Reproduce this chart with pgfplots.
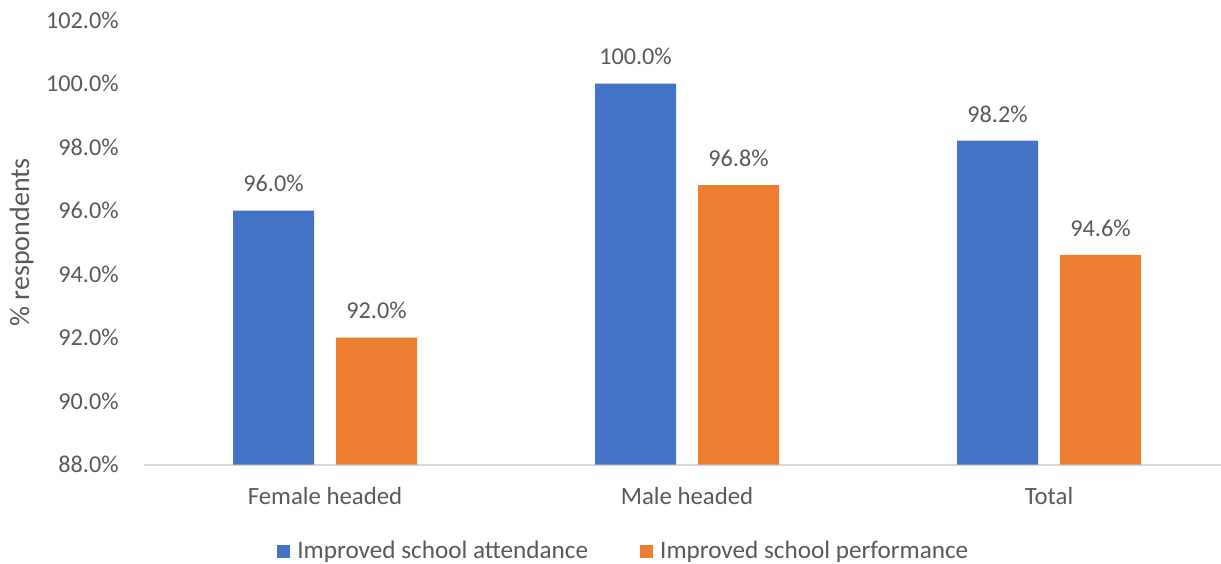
\documentclass[border=0pt]{standalone}
\usepackage{pgfplots}
\pgfplotsset{compat=1.18}
\usepackage{fontspec}
\setmainfont{Carlito}

\definecolor{attend}{HTML}{4472C4}
\definecolor{perform}{HTML}{ED7D31}
\definecolor{labelgray}{HTML}{595959}
\definecolor{baseline}{HTML}{D9D9D9}

\begin{document}
\begin{tikzpicture}[font=\fontsize{12}{14.4}\selectfont]
\useasboundingbox (-72pt,-49.25pt) rectangle (538.5pt,232.25pt);
\begin{axis}[
  at={(0,0)}, anchor=south west,
  scale only axis, width=538.5pt, height=222.25pt,
  xmin=-0.5, xmax=2.475, ymin=88, ymax=102,
  ybar,
  ytick={88,90,92,94,96,98,100,102},
  xtick={0,1,2},
  xticklabels={Female headed, Male headed, Total},
  /pgf/number format/assume math mode=true,
  yticklabel={\pgfmathprintnumber[fixed,fixed zerofill,precision=1]{\tick}\%},
  axis lines*=left,
  x axis line style={draw=baseline, line width=1pt},
  y axis line style={draw=none},
  tick style={draw=none},
  major tick length=0pt,
  yticklabel style={inner sep=0pt, anchor=east, xshift=-12.5pt, text=labelgray, font=\fontsize{12.1}{14.4}\selectfont},
  xticklabel style={inner sep=0pt, anchor=north, yshift=-11pt, text=labelgray, font=\fontsize{12.4}{14.4}\selectfont},
  ylabel={\% respondents},
  ylabel style={at={(axis description cs:-0.1135,0.5)}, anchor=center, text=labelgray, font=\fontsize{14}{16}\selectfont},
  nodes near coords={\pgfmathprintnumber[fixed,fixed zerofill,precision=1]{\pgfplotspointmeta}\%},
  every node near coord/.append style={inner sep=0pt, anchor=south, yshift=9pt, text=labelgray, font=\fontsize{12.1}{14.4}\selectfont},
  bar width=40.5pt,
  legend columns=2,
  legend style={at={(axis description cs:0,0)}, anchor=west, xshift=66.5pt, yshift=-43.25pt,
    draw=none, fill=none, inner sep=0pt,
    /tikz/every even column/.append style={column sep=26pt},
    nodes={inner sep=0pt, text=labelgray, font=\fontsize{12.6}{15}\selectfont}},
  legend cell align=left,
  legend image code/.code={\fill[#1] (0pt,-3.25pt) rectangle (6.5pt,3.25pt);},
]
\addplot[fill=attend, draw=none, bar shift=-25.75pt]
  coordinates {(0,96.0) (1,100.0) (2,98.2)};
\addlegendentry{\hspace{3.5pt}Improved school attendance}
\addplot[fill=perform, draw=none, bar shift=25.75pt]
  coordinates {(0,92.0) (1,96.8) (2,94.6)};
\addlegendentry{\hspace{3.5pt}Improved school performance}
\end{axis}
\end{tikzpicture}
\end{document}
